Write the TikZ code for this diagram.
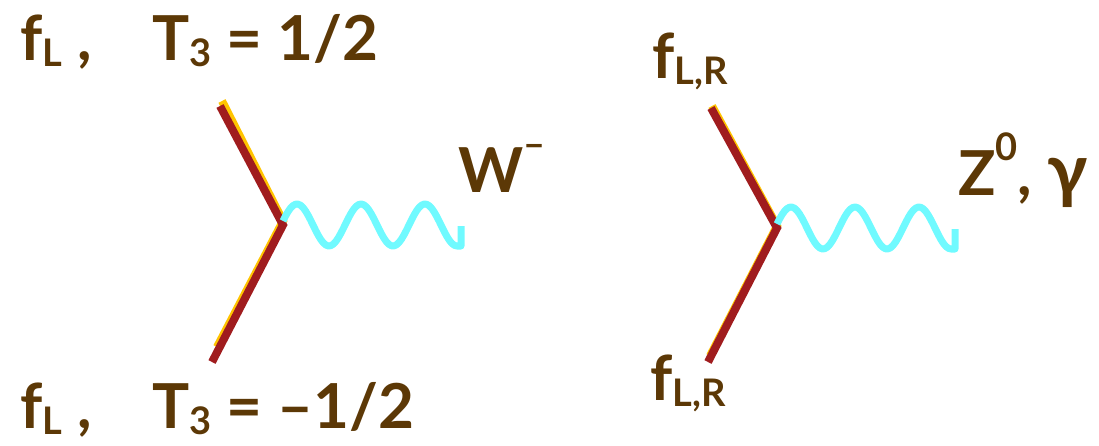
\documentclass[tikz,border=0pt]{standalone}
\usepackage{fontspec}
\setmainfont{Lato}
\usepackage{xcolor}
\usepackage{tikz}
\definecolor{mybrown}{RGB}{92,56,6}
\definecolor{myred}{RGB}{160,28,30}
\definecolor{myyellow}{RGB}{255,196,0}
\definecolor{mycyan}{RGB}{112,250,255}
\newcommand{\bigtxt}{\fontsize{62}{70}\selectfont\bfseries}
\newcommand{\subtxt}[1]{\raisebox{-0.1em}{\fontsize{38}{40}\selectfont #1}}
\newcommand{\suptxt}[1]{\raisebox{0.55em}{\fontsize{38}{40}\selectfont #1}}
\tikzset{
  fermion/.style={draw=myred, line width=8pt},
  glow/.style={draw=myyellow, line width=8pt},
  photon/.style={draw=mycyan, line width=7pt, line join=round},
  lbl/.style={text=mybrown, font=\bigtxt, anchor=base west, inner sep=0pt}
}
\begin{document}
\begin{tikzpicture}[x=1pt, y=-1pt]
  \useasboundingbox (0,0) rectangle (1099,445);

  % Vertex points
  \coordinate (aL) at (220,106);
  \coordinate (vL) at (283,225);
  \coordinate (bL) at (212,362);
  \coordinate (aR) at (711,108);
  \coordinate (vR) at (777,228);
  \coordinate (bR) at (708,362);

  % Charged current vertex
  \draw[glow] ([shift={(2,-5)}]aL) -- ([yshift=4pt]vL) -- ([shift={(5,-15)}]bL);
  \draw[fermion] (aL) -- (vL) -- (bL);
  \draw[photon, shift={(vL)}] plot[domain=0:174, samples=70] (\x, {-21*sin(5.625*(\x+2))}) -- ++(4,0) -- ++(0,-20);

  % Neutral current vertex
  \draw[glow] ([shift={(1,-2)}]aR) -- ([yshift=2pt]vR) -- ([shift={(2,-6)}]bR);
  \draw[fermion] (aR) -- (vR) -- (bR);
  \draw[photon, shift={(vR)}] plot[domain=0:174, samples=70] (\x, {-21*sin(5.625*(\x+2))}) -- ++(4,0) -- ++(0,-20);

  % Labels
  \node[lbl] (fLtop) at (20,60) {f\subtxt{L} ,};
  \node[lbl] (Ttop) at (152,60) {T\subtxt{3} = 1/2};
  \node[lbl] (fLbot) at (20,428) {f\subtxt{L} ,};
  \node[lbl] (Tbot) at (152,428) {T\subtxt{3} = –1/2};
  \node[lbl] (wlbl) at (458,192) {W\suptxt{–}};
  \node[lbl] (zlbl) at (958,195) {Z\suptxt{0}, {\fontsize{72}{80}\selectfont γ}};
  \node[lbl] (fLRtop) at (652,78) {f\subtxt{L,R}};
  \node[lbl] (fLRbot) at (650,400) {f\subtxt{L,R}};
\end{tikzpicture}
\end{document}
